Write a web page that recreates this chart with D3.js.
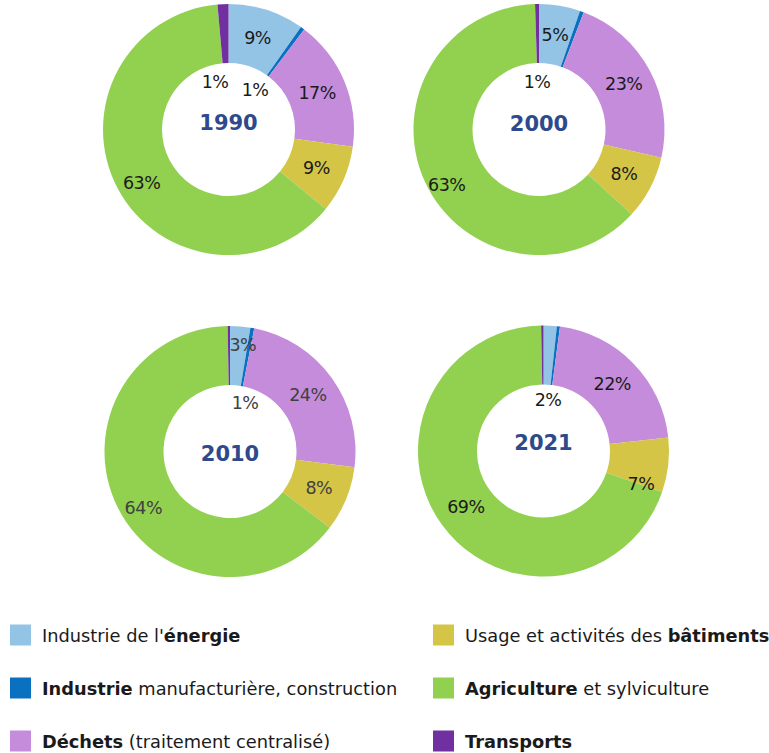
<!DOCTYPE html>
<html><head><meta charset="utf-8">
<script src="https://cdn.jsdelivr.net/npm/d3@7"></script>
<style>body{margin:0;background:#fff}</style>
</head><body>
<svg id="chart" width="769" height="753"></svg>
<script>
// ---- data ----
const categories = ["Industrie de l'énergie","Industrie manufacturière, construction","Déchets (traitement centralisé)","Usage et activités des bâtiments","Agriculture et sylviculture","Transports"];
const years = ["1990","2000","2010","2021"];
const values1990 = [9.8, 0.5, 16.9, 8.7, 62.7, 1.4];
const values2000 = [5.3, 0.5, 22.8, 8.2, 62.7, 0.5];
const values2010 = [2.6, 0.5, 23.9, 8.4, 64.3, 0.3];
const values2021 = [1.7, 0.4, 21.2, 7.0, 69.4, 0.3];
const labels1990 = ["9%","1%","17%","9%","63%","1%"];
const labels2000 = ["5%","","23%","8%","63%","1%"];
const labels2010 = ["3%","1%","24%","8%","64%",""];
const labels2021 = ["2%","","22%","7%","69%",""];
const legendParts = [
  [["Industrie de l'",false],["énergie",true]],
  [["Industrie",true],[" manufacturière, construction",false]],
  [["Déchets",true],[" (traitement centralisé)",false]],
  [["Usage et activités des ",false],["bâtiments",true]],
  [["Agriculture",true],[" et sylviculture",false]],
  [["Transports",true]]
];

// ---- styling / layout ----
const colors = ["#93C4E6","#0A70C0","#C48CDA","#D4C547","#92D050","#7030A0"];
const rOut = 125.5, rIn = 66.5, rLab = 96;
const panels = [
  {cx:228.5, cy:129.5, vals:values1990, labs:labels1990, ydy:-7, txt:"#1a1a1a",
   nudge:{1:[26.5,-39.5,true],4:[-2,9],5:[-13.5,-47.5,true]}},
  {cx:539, cy:129.5, vals:values2000, labs:labels2000, ydy:-6, txt:"#1a1a1a",
   nudge:{4:[-5,15],5:[-2,-47.5,true]}},
  {cx:230, cy:451.5, vals:values2010, labs:labels2010, ydy:2, txt:"#404040",
   nudge:{0:[5,-11],1:[15,-48.5,true],4:[-1,13]}},
  {cx:543.5, cy:451, vals:values2021, labs:labels2021, ydy:-8, txt:"#1a1a1a",
   nudge:{0:[4.5,-51,true],3:[2,22]}}
];

const svg = d3.select("#chart");
const pie = d3.pie().sort(null).value(d=>d);
const arc = d3.arc().innerRadius(rIn).outerRadius(rOut);
const labArc = d3.arc().innerRadius(rLab).outerRadius(rLab);
const font = "'DejaVu Sans',sans-serif";

panels.forEach((p,pi)=>{
  const g = svg.append("g").attr("transform",`translate(${p.cx},${p.cy})`);
  const arcs = pie(p.vals);
  g.selectAll("path").data(arcs).enter().append("path")
    .attr("d",arc).attr("fill",(d,i)=>colors[i]);
  g.selectAll("text.lab").data(arcs).enter().append("text")
    .attr("class","lab")
    .attr("transform",(d,i)=>{
      let [x,y] = labArc.centroid(d);
      const n = p.nudge[i];
      if(n){ if(n[2]){x=n[0];y=n[1];} else {x+=n[0];y+=n[1];} }
      return `translate(${x},${y})`;
    })
    .attr("text-anchor","middle").attr("dominant-baseline","central")
    .attr("font-family",font).attr("font-size",17.5).attr("fill",p.txt)
    .attr("letter-spacing",-0.5)
    .text((d,i)=>p.labs[i]);
  g.append("text").attr("y",p.ydy).attr("text-anchor","middle").attr("dominant-baseline","central")
    .attr("font-family",font).attr("font-weight","bold").attr("font-size",21).attr("fill","#2E4A8C")
    .text(years[pi]);
});

// legend
const legRows = [635, 688, 741];
const legCols = [10, 433];
categories.forEach((c,i)=>{
  const col = Math.floor(i/3), row = i%3;
  const x = legCols[col], y = legRows[row];
  svg.append("rect").attr("x",x).attr("y",y-10.5).attr("width",21).attr("height",21).attr("fill",colors[i]);
  const t = svg.append("text").attr("x",x+32).attr("y",y).attr("dominant-baseline","central")
    .attr("font-family",font).attr("font-size",17.8).attr("fill","#1a1a1a");
  legendParts[i].forEach(([s,b])=>{
    t.append("tspan").attr("font-weight",b?"bold":"normal").text(s);
  });
});
</script>
</body></html>
